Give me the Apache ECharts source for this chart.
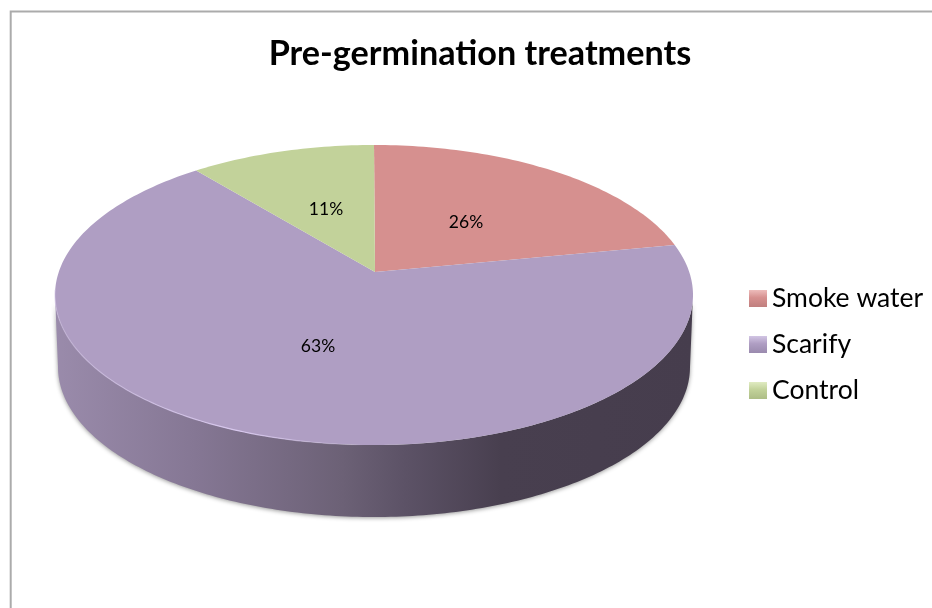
<!DOCTYPE html>
<html>
<head>
<meta charset="utf-8">
<title>Pre-germination treatments</title>
<script src="https://cdn.jsdelivr.net/npm/echarts@6/dist/echarts.min.js"></script>
<style>
  html, body { margin: 0; padding: 0; background: #fff; }
  #chart { width: 932px; height: 608px; }
</style>
</head>
<body>
<div id="chart"></div>
<script>
const titleText = "Pre-germination treatments";
const categories = ["Smoke water", "Scarify", "Control"];
const shares = [26, 63, 11];
const sliceColors = ["#d6908f", "#af9ec3", "#c2d29a"];
const legendColors = [
  ["#edbcbb", "#d6908f", "#c07f7e"],
  ["#d2c5e4", "#af9ec3", "#9a8aae"],
  ["#e0ebc2", "#c2d29a", "#adbd86"],
];

// layout of the tilted disc, in page pixels
const rim = { cx: 374, cy: 295, rx: 319, ry: 150 };
const base = { cx: 374, cy: 367, rx: 316, ry: 150 };
const apex = [375, 272];
const labelSpots = [[466, 222], [318, 346], [326, 209]];
const total = shares.reduce((a, b) => a + b, 0);

// the original's perspective is not a plain ellipse sweep, this warp bends the
// sweep angle so the slice edges land where they do in the picture
function warp(deg) {
  const r = (deg * Math.PI) / 180;
  return deg - 22.08 * Math.sin(r) + 8.52 * Math.sin(2 * r);
}

function onEllipse(e, deg) {
  const r = (deg * Math.PI) / 180;
  return [e.cx + e.rx * Math.sin(r), e.cy - e.ry * Math.cos(r)];
}

function arc(e, from, to) {
  const pts = [];
  const steps = Math.max(2, Math.ceil(Math.abs(to - from)));
  for (let i = 0; i <= steps; i++) {
    pts.push(onEllipse(e, from + ((to - from) * i) / steps));
  }
  return pts;
}

function wallShape() {
  return {
    type: "polygon",
    shape: { points: arc(rim, 90, 270).concat(arc(base, 270, 90)) },
    style: {
      fill: new echarts.graphic.LinearGradient(0, 0, 1, 0, [
        { offset: 0, color: "#9a8bab" },
        { offset: 0.22, color: "#857794" },
        { offset: 0.45, color: "#6c6176" },
        { offset: 0.55, color: "#5c5266" },
        { offset: 0.7, color: "#483f4f" },
        { offset: 1, color: "#463d4d" },
      ]),
      shadowBlur: 4,
      shadowColor: "rgba(0,0,0,0.4)",
      shadowOffsetY: 1,
    },
  };
}

function renderSlice(index, params, api) {
  const start = shares.slice(0, index).reduce((a, b) => a + b, 0);
  const from = (start / total) * 360;
  const to = from + (api.value(0) / total) * 360;
  const children = [];
  if (index === 1) {
    children.push(wallShape());
  }
  children.push({
    type: "polygon",
    shape: { points: [apex].concat(arc(rim, warp(from), warp(to))) },
    style: { fill: sliceColors[index] },
  });
  if (index === 1) {
    // soft light edge along the front left of the disc, gone by the middle
    children.push({
      type: "polyline",
      shape: { points: arc(rim, 272, 182) },
      style: {
        fill: "none",
        lineWidth: 1.2,
        stroke: new echarts.graphic.LinearGradient(0, 0, 1, 0, [
          { offset: 0, color: "rgba(205,190,225,0.5)" },
          { offset: 0.6, color: "rgba(216,200,238,1)" },
          { offset: 1, color: "rgba(216,200,238,0)" },
        ]),
      },
    });
  }
  children.push({
    type: "text",
    z2: 10,
    style: {
      text: api.value(0) + "%",
      x: labelSpots[index][0],
      y: labelSpots[index][1],
      align: "center",
      verticalAlign: "middle",
      fill: "#000",
      font: "17.5px Lato",
    },
  });
  return { type: "group", children };
}

const chart = echarts.init(document.getElementById("chart"), null, { renderer: "canvas" });

chart.setOption({
  animation: false,
  backgroundColor: "#fff",
  title: {
    text: titleText,
    left: 475,
    top: 32,
    textAlign: "center",
    textStyle: { fontFamily: "Lato", fontWeight: "bold", fontSize: 34.2, color: "#000" },
  },
  legend: {
    orient: "vertical",
    left: 749,
    top: 284,
    padding: 0,
    itemWidth: 18,
    itemHeight: 17,
    itemGap: 17,
    selectedMode: false,
    textStyle: { fontFamily: "Lato", fontSize: 26.5, color: "#000", lineHeight: 25, padding: [0, 0, 4, 0] },
    data: categories.map((name, i) => ({
      name,
      icon: "rect",
      itemStyle: {
        color: new echarts.graphic.LinearGradient(0, 0, 0, 1, [
          { offset: 0, color: legendColors[i][0] },
          { offset: 0.45, color: legendColors[i][1] },
          { offset: 1, color: legendColors[i][2] },
        ]),
      },
    })),
  },
  graphic: [
    {
      type: "polyline",
      silent: true,
      shape: { points: [[10.7, 608], [10.7, 11.5], [932, 11.5]] },
      style: { fill: "none", stroke: "#ababab", lineWidth: 2 },
    },
  ],
  series: categories.map((name, i) => ({
    name,
    type: "custom",
    coordinateSystem: "none",
    silent: true,
    itemStyle: { color: sliceColors[i] },
    renderItem: (params, api) => renderSlice(i, params, api),
    data: [[shares[i]]],
  })),
});
</script>
</body>
</html>
